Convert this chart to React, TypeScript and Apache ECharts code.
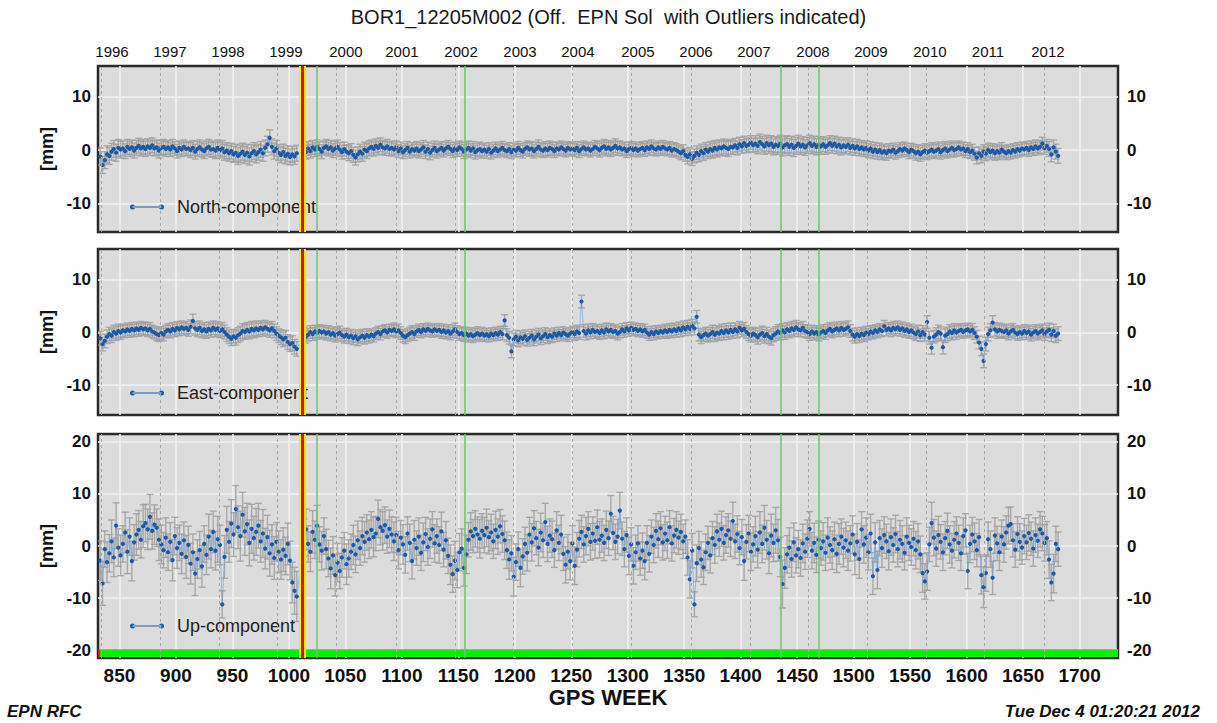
import { useEffect, useRef } from 'react';
import * as echarts from 'echarts';

const FONT = "'Liberation Sans', Arial, Helvetica, sans-serif";

const chartTitle = 'BOR1_12205M002 (Off.  EPN Sol  with Outliers indicated)';
const footerLeft = 'EPN RFC';
const footerRight = 'Tue Dec 4 01:20:21 2012';
const xAxisTitle = 'GPS WEEK';
const yAxisTitle = '[mm]';

const xMin = 831;
const xMax = 1734;
const weekTicks = [850, 900, 950, 1000, 1050, 1100, 1150, 1200, 1250, 1300, 1350, 1400, 1450, 1500, 1550, 1600, 1650, 1700];
const yearLabels = ['1996', '1997', '1998', '1999', '2000', '2001', '2002', '2003', '2004', '2005', '2006', '2007', '2008', '2009', '2010', '2011', '2012'];
const yearLabelWeeks = [843.4, 894.7, 946.1, 997.4, 1050.5, 1100.1, 1152.4, 1204.6, 1255.9, 1309.0, 1360.4, 1411.7, 1464.0, 1515.3, 1567.5, 1618.9, 1672.0];
const yearStartWeeks = [834, 886, 938, 990, 1042, 1095, 1147, 1199, 1251, 1303, 1356, 1408, 1460, 1512, 1564, 1616, 1669];
const discontinuityWeeks = [1012];
const eventWeeks = [1025, 1156, 1435, 1469];

// observation weeks: two segments (break around the discontinuity), every 2nd week
const segmentStartWeeks = [833, 1013];
const segmentLengths = [88, 335];
const weekStep = 2;
const sigmaBlockSize = 10;
const sigmaBlockOffsets = [0, 9];

const northValues = [
  -1.2, -2.8, -1.9, -0.8, -1.1, -0.3, 0.2, -0.5, 0.4, 0.1,
  0.3, -0.2, 0.6, 0.2, 0.5, -0.1, 0.4, 0.8, 0.3, 0.6,
  0.2, 0.7, 0.4, 0.9, 0.3, 0.5, -0.1, 0.4, 0.6, 0.2,
  0.5, 0.1, 0.7, 0.3, -0.2, 0.4, 0.1, 0.6, 0.2, 0.3,
  0.0, 0.4, -0.3, 0.2, 0.5, 0.1, -0.2, 0.3, 0.6, 0.1,
  0.2, -0.1, 0.4, 0.0, 0.3, -0.4, -0.1, -0.6, -0.2, -0.8,
  -0.5, -1.1, -0.7, -0.3, -0.9, -0.5, -1.2, -0.6, -0.2, -0.8,
  -0.4, 0.1, -0.6, 0.4, 1.1, 2.3, 0.6, -0.2, 0.3, -0.5,
  -0.9, -0.4, -1.1, -0.7, -1.3, -0.8, -1.2, -0.6,
  0.1, -0.4, 0.3, -0.2, 0.5, 0.1, 0.6, 0.2, -0.3, 0.4,
  0.7, 0.2, 0.5, -0.1, 0.3, 0.6, 0.1, -0.4, 0.2, -0.3,
  -0.6, -0.2, -0.9, -1.4, -0.8, -0.3, -0.7, 0.1, -0.2, 0.3,
  0.6, 0.2, 0.8, 0.4, 1.0, 0.5, 0.3, 0.7, 0.2, 0.4,
  0.1, 0.5, -0.2, 0.3, -0.4, 0.0, 0.4, -0.3, 0.2, -0.1,
  0.3, -0.2, 0.1, 0.5, -0.3, 0.2, -0.5, 0.0, 0.4, -0.2,
  0.1, 0.4, -0.1, 0.3, 0.6, 0.2, -0.2, 0.3, 0.0, 0.5,
  0.2, -0.3, 0.1, 0.4, -0.1, 0.3, -0.4, 0.0, 0.2, -0.2,
  0.1, -0.3, 0.2, -0.5, -0.1, 0.3, -0.2, 0.1, 0.4, 0.0,
  -0.2, 0.2, -0.4, 0.1, -0.1, 0.4, 0.0, -0.3, 0.2, 0.5,
  0.1, 0.3, -0.2, 0.2, 0.6, 0.1, -0.1, 0.3, 0.0, 0.4,
  0.2, -0.2, 0.3, 0.1, 0.5, 0.2, -0.1, 0.4, 0.1, 0.3,
  0.0, 0.4, -0.2, 0.2, 0.5, 0.1, 0.3, -0.1, 0.2, 0.6,
  0.3, 0.0, 0.4, 0.7, 0.2, 0.5, 0.1, 0.4, 0.8, 0.3,
  0.5, 0.1, 0.3, -0.2, 0.2, 0.4, 0.0, 0.3, -0.1, 0.2,
  0.4, 0.0, 0.5, 0.2, 0.7, 0.3, 0.1, 0.5, 0.2, 0.6,
  0.3, 0.1, 0.4, -0.1, 0.2, 0.0, -0.3, -0.6, -0.2, -0.9,
  -1.3, -0.8, -1.6, -1.1, -0.5, -0.9, -0.2, -0.6, 0.1, -0.3,
  0.2, -0.1, 0.4, 0.1, 0.5, 0.3, 0.7, 0.4, 0.2, 0.6,
  0.5, 0.9, 0.4, 1.1, 0.7, 1.3, 0.8, 1.0, 1.4, 0.9,
  1.2, 0.8, 1.5, 1.1, 0.7, 1.3, 0.9, 1.2, 0.6, 1.0,
  0.8, 1.2, 0.5, 0.9, 1.1, 0.6, 1.0, 0.4, 0.8, 1.2,
  0.7, 1.0, 0.5, 0.9, 1.3, 0.8, 1.1, 0.6, 1.0, 0.7,
  1.1, 0.6, 0.9, 1.3, 0.8, 1.2, 0.7, 1.0, 0.5, 0.9,
  0.6, 1.0, 0.4, 0.8, 0.3, 0.7, 0.2, 0.5, 0.1, 0.4,
  -0.1, 0.3, -0.3, 0.1, -0.4, 0.0, -0.5, -0.2, -0.6, -0.1,
  -0.3, 0.1, -0.5, -0.2, 0.2, -0.1, 0.3, 0.0, -0.4, 0.1,
  -0.2, -0.6, -0.3, -0.8, -0.4, -0.1, -0.5, -0.2, 0.1, -0.3,
  -0.1, 0.2, -0.4, 0.0, 0.3, -0.2, 0.1, 0.4, 0.0, 0.2,
  0.5, 0.1, 0.3, -0.2, 0.2, -0.4, -0.1, -0.7, -1.4, -0.6,
  -1.1, -0.3, -0.7, 0.0, -0.4, -0.1, -0.6, -0.2, -0.5, 0.1,
  -0.3, -0.6, -0.2, -0.5, 0.0, -0.3, 0.2, -0.1, 0.3, 0.1,
  0.4, 0.0, 0.5, 0.2, 0.7, 0.3, 0.6, 1.2, 0.4, 0.8,
  0.2, -0.8, 0.5, -0.3, -1.1,
];

const eastValues = [
  -1.1, -2.2, -1.6, -0.8, -0.3, -0.6, 0.1, -0.2, 0.3, 0.0,
  0.4, 0.2, 0.6, 0.3, 0.7, 0.4, 0.8, 0.5, 0.9, 0.6,
  0.8, 0.4, 0.7, 0.2, 0.0, -0.3, -0.5, -0.1, -0.4, 0.2,
  0.5, 0.2, 0.7, 0.4, 0.9, 0.6, 1.0, 0.7, 0.9, 0.5,
  1.1, 2.2, 0.8, 0.5, 0.9, 0.3, 0.6, 0.2, 0.7, 0.4,
  0.9, 0.5, 0.8, 0.3, 0.6, 0.1, -0.4, -0.8, -1.2, -0.7,
  -1.0, -0.5, -0.2, 0.3, 0.1, 0.5, 0.2, 0.7, 0.4, 0.8,
  0.5, 0.9, 0.6, 1.0, 0.7, 0.4, 0.8, 0.3, -0.2, -0.6,
  -0.9, -1.3, -1.0, -1.8, -2.2, -2.0, -2.7, -3.1,
  -0.2, -0.8, -0.4, 0.1, -0.3, 0.2, -0.1, 0.3, 0.0, 0.2,
  -0.2, 0.1, -0.4, -0.1, -0.6, -0.3, 0.0, -0.5, -0.8, -0.4,
  -0.9, -0.6, -1.1, -0.7, -1.3, -0.9, -0.6, -1.0, -0.5, -0.8,
  -0.4, -0.7, -0.2, 0.1, -0.3, 0.2, 0.4, 0.0, 0.5, 0.3,
  0.6, 0.2, 0.4, -0.1, -0.6, -0.9, -0.5, -0.2, 0.1, -0.3,
  0.2, 0.5, 0.1, 0.6, 0.3, 0.7, 0.4, 0.2, 0.6, 0.3,
  0.5, 0.1, 0.4, 0.0, 0.3, -0.2, 0.2, 0.6, 0.1, -0.3,
  -0.1, -0.5, -0.2, -0.6, -0.3, -0.7, -0.4, -0.1, -0.5, -0.2,
  -0.6, -0.3, -0.7, -0.2, -0.5, -0.1, -0.4, 0.1, -0.3, 2.3,
  -0.5, -1.0, -3.6, -1.3, -0.8, -1.5, -0.9, -1.2, -0.7, -1.4,
  -1.0, -0.6, -1.3, -0.8, -0.4, -1.1, -0.7, -0.3, -0.9, -0.5,
  -0.8, -0.2, -0.6, -0.1, -0.5, 0.0, -0.3, -0.6, -0.2, 0.1,
  -0.3, 0.2, -0.1, 5.9, 0.3, -0.2, 0.4, 0.0, 0.5, 0.1,
  0.3, -0.1, 0.4, 0.0, 0.6, 0.2, 0.5, 0.1, 0.3, -0.2,
  0.1, 0.6, 0.2, 0.8, 0.4, 0.9, 0.5, 0.7, 0.3, 0.6,
  0.2, 0.5, 0.0, -0.4, 0.1, -0.3, 0.2, -0.1, 0.3, 0.0,
  0.4, 0.1, 0.5, 0.2, 0.6, 0.3, 0.8, 0.4, 1.0, 0.6,
  1.1, 0.7, 1.3, 0.8, 3.0, -0.4, -0.9, -0.5, -0.2, -0.6,
  -0.3, 0.1, -0.4, 0.0, -0.2, 0.3, -0.1, 0.4, 0.0, 0.5,
  0.1, 0.6, 0.2, 0.9, 0.4, 0.7, 0.1, -0.3, -0.6, -0.2,
  -0.5, -0.9, -0.4, -0.1, -0.7, -0.3, -0.8, -1.1, -0.5, -0.2,
  0.2, -0.1, 0.4, 0.0, 0.6, 0.3, 0.8, 0.5, 1.0, 0.6,
  0.4, 0.9, 0.3, 0.1, -0.3, 0.2, -0.2, 0.1, -0.4, 0.0,
  0.3, -0.1, 0.4, 0.7, 0.2, 0.5, 0.8, 0.4, 0.9, 0.5,
  0.7, 1.0, 0.3, -0.4, -0.8, -0.3, -0.7, -0.2, -0.5, 0.0,
  -0.3, 0.2, -0.1, 0.4, 0.1, 0.6, 0.3, 1.2, 0.5, 0.8,
  0.4, 0.9, 0.6, 1.0, 0.5, 0.8, 0.3, 0.6, 0.1, 0.4,
  0.0, -0.3, 0.2, -0.5, 0.1, -0.4, 2.0, -1.0, -2.9, -0.8,
  -0.4, 0.1, -0.2, -2.8, -0.6, -0.3, 0.2, -0.1, 0.4, 0.0,
  0.3, 0.5, 0.1, 0.4, 0.6, 0.2, 0.5, -0.1, -0.8, -1.9,
  -3.1, -5.4, -2.2, -0.3, 0.4, 1.9, 0.6, 0.2, 0.5, 0.3,
  0.1, 0.4, -0.2, 0.2, 0.5, 0.0, -0.3, 0.1, -0.2, 0.3,
  -0.1, 0.2, -0.4, 0.0, 0.3, -0.2, 0.1, 0.4, -0.3, 0.2,
  0.5, -0.4, 0.3, -0.6, -0.2,
];

const upValues = [
  -2.8, -7.2, -0.6, -3.1, -1.4, 0.9, -2.2, 3.9, -0.3, -1.8,
  0.4, 2.6, -1.1, 1.8, -2.9, 0.7, 2.2, 3.1, 1.2, 3.8,
  4.4, 3.2, 5.6, 2.9, 4.1, 3.5, 1.2, 0.3, -0.8, 1.6,
  -1.2, 0.8, -2.7, 1.9, -0.4, 0.6, -1.5, 1.1, -2.1, 0.2,
  -3.4, -1.2, -5.3, -2.5, -0.8, -3.9, 0.4, -1.7, 1.8, -0.6,
  2.7, -0.9, 1.3, 0.2, -11.2, -2.1, 3.1, 0.8, 4.3, 2.2,
  7.1, 3.6, 1.9, 6.0, 2.8, 4.2, 0.6, 3.3, 1.5, 2.7,
  3.9, 0.9, 2.4, -0.5, 1.7, -1.4, 0.3, -2.3, 0.8, -1.1,
  -2.6, -0.7, -1.9, 0.4, -2.8, -7.0, -8.6, -9.7,
  1.6, 3.2, 0.4, -1.1, 2.7, 1.2, 3.9, 0.3, -0.9, 1.9,
  -0.6, -2.4, -4.3, -1.8, -5.6, -3.2, -4.8, -2.2, -0.9, -3.5,
  -2.4, -1.1, 0.2, -1.6, 1.1, -0.4, 1.9, 0.8, 2.6, 1.3,
  3.1, 1.7, 2.4, 5.2, 3.6, 2.9, 4.0, 1.8, 3.3, 2.2,
  0.9, 2.1, -0.8, 1.6, 0.3, -1.7, 2.4, 0.6, -2.9, 1.2,
  -0.4, 1.8, -1.3, 0.7, 2.3, -0.2, 1.4, 3.2, 0.5, 1.9,
  0.2, 2.8, -0.7, 1.1, -1.9, -3.6, -5.4, -2.8, -4.6, -1.2,
  -0.5, -4.2, -1.6, 1.2, 2.8, 1.9, 3.3, 2.2, 1.4, 2.9,
  2.1, 3.5, 1.7, 2.6, 0.9, 3.1, 1.8, 3.8, 2.3, 1.1,
  -0.8, -2.6, -1.4, -5.9, -3.1, -0.6, -4.2, -2.0, 0.4, -1.3,
  2.2, 0.7, 3.4, 1.5, -0.3, 2.6, 1.1, 4.6, 0.4, 2.0,
  1.3, -0.8, 3.0, 0.6, 2.2, -1.5, -3.6, -1.1, -2.9, 0.5,
  -3.8, -0.7, 1.4, 2.7, 0.3, 1.9, 3.3, 0.8, 2.4, 1.0,
  3.6, 1.2, 2.0, 0.6, 3.1, 1.5, 6.2, 2.5, 0.8, 1.8,
  6.8, 1.4, -0.6, 2.1, -1.9, 0.3, -3.8, -1.2, 0.5, -2.4,
  -0.9, -2.9, 0.6, -1.5, 1.8, 0.2, 2.9, 1.3, 3.4, 0.7,
  2.4, 1.1, 3.6, 0.5, 2.0, 3.1, 1.6, 2.7, 0.9, 1.8,
  -2.2, -6.4, -0.9, -11.2, -3.3, -0.4, -2.6, -4.1, -1.2, 0.6,
  -1.8, 1.5, 0.2, 2.8, 1.2, 3.3, 0.6, 2.1, 3.0, 1.4,
  4.8, 0.9, 2.3, -0.4, 1.7, -2.9, 0.8, 2.4, -1.1, 0.3,
  1.9, -0.7, 2.6, 0.4, 3.5, 1.2, -1.4, 2.0, 0.6, 3.0,
  1.1, -2.1, -7.3, -4.2, -1.6, -0.3, -2.5, 0.7, -1.8, -0.6,
  -2.3, 0.5, -1.1, 1.4, 3.3, -0.9, 0.6, -1.7, 1.2, -0.4,
  0.9, -1.3, 1.6, 0.2, -0.8, 1.3, -1.5, 0.4, 1.8, -0.3,
  1.1, -0.9, 0.5, 2.2, -1.6, 0.8, -2.5, 3.2, 0.3, 1.6,
  -1.2, 2.4, -5.8, 0.7, -4.6, 1.5, -0.4, 2.1, 0.9, -1.0,
  1.7, 0.2, 2.3, -0.6, 1.2, 0.4, -1.3, 1.8, 0.6, -0.2,
  1.4, -0.8, 0.9, -1.6, -5.2, -6.8, -4.9, 0.3, 4.4, 1.6,
  -0.5, 2.1, 0.8, -1.2, 1.5, 2.9, 0.3, -0.9, 1.2, 2.4,
  0.6, -1.4, 1.9, 3.0, -4.8, 0.4, 2.2, 0.9, -0.8, 1.7,
  -5.6, -7.9, -5.2, 1.3, -0.6, -6.1, 2.0, 0.5, -1.2, 1.8,
  0.3, 2.6, 3.9, 4.2, 1.1, -0.7, 2.3, 0.8, -0.3, 1.9,
  0.7, 2.5, 1.4, -0.5, 2.1, 1.0, 3.2, 2.4, 0.6, 1.5,
  -2.6, -7.0, -5.3, 0.4, -0.6,
];

const upSigma = [
  3.8, 4.2, 3.5, 3.9, 3.6, 4.1, 3.7, 4.4, 3.6, 3.9,
  3.5, 3.9, 4.2, 3.6, 3.8, 3.4, 4.0, 3.7, 3.5, 4.1,
  3.6, 3.9, 4.3, 3.5, 3.8, 3.6, 4.0, 3.7, 3.4, 3.8,
  3.5, 3.7, 4.0, 3.6, 3.9, 3.4, 3.8, 3.5, 4.1, 3.6,
  3.9, 3.5, 4.2, 3.7, 3.6, 4.0, 3.5, 3.8, 4.3, 3.6,
  4.0, 3.7, 4.4, 3.8, 2.6, 4.1, 4.5, 3.9, 4.6, 4.2,
  4.5, 4.1, 4.8, 4.3, 4.6, 4.0, 4.4, 4.7, 4.2, 4.5,
  4.3, 4.0, 4.6, 3.9, 4.2, 4.4, 3.8, 4.1, 3.7, 4.0,
  3.8, 4.2, 3.6, 4.0, 3.7, 3.9, 4.5, 4.8,
  3.6, 3.9, 3.5, 3.8, 4.1, 3.6, 3.9, 3.4, 3.7, 3.5,
  3.8, 3.5, 3.9, 3.6, 4.0, 3.7, 3.4, 3.8, 3.5, 3.9,
  3.6, 3.4, 3.8, 3.5, 3.7, 3.3, 3.6, 3.9, 3.4, 3.7,
  3.5, 3.8, 3.3, 3.6, 3.4, 3.7, 3.5, 3.2, 3.6, 3.4,
  3.7, 3.4, 3.6, 3.3, 3.8, 3.5, 3.2, 3.6, 3.4, 3.7,
  3.3, 3.6, 3.4, 3.7, 3.2, 3.5, 3.8, 3.4, 3.6, 3.3,
  3.5, 3.7, 3.3, 3.6, 3.4, 3.8, 3.5, 3.7, 3.4, 3.6,
  3.8, 3.5, 3.7, 3.3, 3.6, 3.2, 3.5, 3.4, 3.7, 3.3,
  3.4, 3.6, 3.2, 3.5, 3.3, 3.6, 3.4, 3.2, 3.5, 3.7,
  3.5, 3.8, 3.4, 3.7, 3.5, 3.3, 3.6, 3.4, 3.2, 3.5,
  3.3, 3.6, 3.4, 3.2, 3.5, 3.7, 3.3, 3.6, 3.4, 3.2,
  3.5, 3.3, 3.6, 3.4, 3.7, 3.2, 3.5, 3.3, 3.6, 3.4,
  3.6, 3.3, 3.5, 3.2, 3.4, 3.6, 3.3, 3.5, 3.2, 3.4,
  3.3, 3.5, 3.2, 3.4, 3.6, 3.3, 3.5, 3.2, 3.4, 3.3,
  3.5, 3.2, 3.4, 3.3, 3.6, 3.2, 3.5, 3.3, 3.4, 3.2,
  3.4, 3.6, 3.3, 3.5, 3.2, 3.4, 3.3, 3.5, 3.2, 3.4,
  3.3, 3.5, 3.2, 3.4, 3.3, 3.5, 3.2, 3.4, 3.3, 3.2,
  3.4, 3.6, 3.3, 2.4, 3.5, 3.2, 3.4, 3.3, 3.5, 3.2,
  3.4, 3.2, 3.5, 3.3, 3.2, 3.4, 3.3, 3.5, 3.2, 3.4,
  3.6, 3.3, 3.5, 3.2, 3.4, 3.7, 3.3, 3.5, 3.6, 3.4,
  3.8, 3.5, 4.0, 3.6, 4.3, 3.7, 3.9, 4.1, 3.6, 4.4,
  4.0, 3.8, 4.6, 3.9, 3.6, 3.8, 3.5, 3.7, 3.4, 3.6,
  3.5, 3.7, 3.4, 3.6, 3.3, 3.5, 3.8, 3.4, 3.6, 3.3,
  3.6, 3.4, 3.8, 3.5, 3.7, 3.3, 3.6, 3.9, 3.4, 3.7,
  3.5, 3.8, 3.4, 3.6, 3.9, 3.5, 3.7, 3.4, 3.6, 3.8,
  3.4, 3.7, 3.5, 3.8, 3.6, 3.4, 3.7, 3.5, 3.3, 3.6,
  3.5, 3.3, 3.6, 3.4, 3.7, 3.5, 3.3, 3.6, 3.4, 3.5,
  3.3, 3.6, 3.4, 3.5, 3.7, 3.4, 3.6, 3.3, 4.0, 3.5,
  3.4, 3.6, 3.3, 3.5, 3.2, 3.4, 3.6, 3.3, 3.5, 3.2,
  3.4, 3.3, 3.5, 3.2, 3.4, 3.6, 3.3, 3.5, 3.2, 3.4,
  3.6, 3.9, 3.5, 3.3, 3.5, 3.2, 3.4, 3.3, 3.5, 3.2,
  3.4, 3.2, 3.5, 3.3, 3.2, 3.4, 3.3, 3.5, 3.2, 3.4,
  3.3, 3.5, 3.2, 3.4, 3.3, 3.2, 3.4, 3.3, 3.5, 3.2,
  3.6, 3.5, 3.7, 3.4, 3.3,
];

// sigma per block of 10 observations (20 weeks)
const northSigmaBlocks = [
  1.6, 1.4, 1.4, 1.3, 1.4, 1.5, 1.6, 1.5, 1.5,
  1.3, 1.3, 1.4, 1.3, 1.2, 1.3, 1.2, 1.3, 1.2, 1.2,
  1.3, 1.2, 1.2, 1.3, 1.2, 1.2, 1.2, 1.3, 1.4, 1.3,
  1.5, 1.6, 1.5, 1.4, 1.3, 1.3, 1.2, 1.3, 1.3, 1.2,
  1.3, 1.2, 1.2, 1.4,
];
const eastSigmaBlocks = [
  1.3, 1.2, 1.2, 1.2, 1.3, 1.3, 1.4, 1.3, 1.4,
  1.2, 1.2, 1.2, 1.1, 1.2, 1.1, 1.2, 1.2, 1.1, 1.2,
  1.2, 1.1, 1.2, 1.2, 1.1, 1.1, 1.2, 1.2, 1.3, 1.2,
  1.3, 1.3, 1.2, 1.2, 1.2, 1.1, 1.2, 1.2, 1.3, 1.2,
  1.3, 1.2, 1.2, 1.3,
];

const LEGEND_ICON =
  'path://M0,2.5a2.5,2.5 0 1,0 5,0a2.5,2.5 0 1,0 -5,0Z M29,2.5a2.5,2.5 0 1,0 5,0a2.5,2.5 0 1,0 -5,0Z M2.5,2.1H31.5V2.9H2.5Z';

type Panel = {
  name: string;
  values: number[];
  sigmaAt: (k: number, seg: number, j: number) => number;
  yMin: number;
  yMax: number;
  yTicks: number[];
  top: number;
  height: number;
  legendTop: number;
};

const panels: Panel[] = [
  {
    name: 'North-component',
    values: northValues,
    sigmaAt: (_k, s, j) => northSigmaBlocks[sigmaBlockOffsets[s] + Math.floor(j / sigmaBlockSize)],
    yMin: -15.4, yMax: 15.8, yTicks: [-10, 0, 10],
    top: 66, height: 166, legendTop: 198,
  },
  {
    name: 'East-component',
    values: eastValues,
    sigmaAt: (_k, s, j) => eastSigmaBlocks[sigmaBlockOffsets[s] + Math.floor(j / sigmaBlockSize)],
    yMin: -15.7, yMax: 15.9, yTicks: [-10, 0, 10],
    top: 249, height: 166, legendTop: 384,
  },
  {
    name: 'Up-component',
    values: upValues,
    sigmaAt: (k) => upSigma[k],
    yMin: -21.5, yMax: 21.5, yTicks: [-20, -10, 0, 10, 20],
    top: 434, height: 224, legendTop: 617,
  },
];

function buildPoints(p: Panel): number[][] {
  const pts: number[][] = [];
  let k = 0;
  segmentStartWeeks.forEach((start, s) => {
    for (let j = 0; j < segmentLengths[s]; j++) {
      pts.push([start + j * weekStep, p.values[k], p.sigmaAt(k, s, j)]);
      k++;
    }
  });
  return pts;
}

const plainNumber = (v: number) => String(v);

function buildOption() {
  const grid: any[] = [];
  const xAxis: any[] = [];
  const yAxis: any[] = [];
  const series: any[] = [];
  const legend: any[] = [];

  panels.forEach((p, i) => {
    grid.push({
      left: 98, width: 1020, top: p.top, height: p.height,
      show: true, backgroundColor: '#dcdcdc', borderColor: '#2a2a2a', borderWidth: 2.5,
    });
    const isBottom = i === panels.length - 1;
    xAxis.push({
      type: 'value', gridIndex: i, min: xMin, max: xMax, position: 'bottom',
      axisLine: { show: false },
      axisTick: { show: false, customValues: weekTicks },
      axisLabel: {
        show: isBottom, customValues: weekTicks, margin: 8, formatter: plainNumber,
        fontSize: 19, fontWeight: 'bold', color: '#111', fontFamily: FONT,
      },
      splitLine: { show: true, lineStyle: { color: '#f2f2f2', width: 1.5 } },
      name: isBottom ? xAxisTitle : '',
      nameLocation: 'middle', nameGap: 28,
      nameTextStyle: { fontSize: 22, fontWeight: 'bold', color: '#111', fontFamily: FONT },
    });
    const yCommon = {
      type: 'value', gridIndex: i, min: p.yMin, max: p.yMax,
      axisLine: { show: false },
      axisTick: { show: false, customValues: p.yTicks },
    };
    yAxis.push({
      ...yCommon, position: 'left',
      axisLabel: { customValues: p.yTicks, formatter: plainNumber, margin: 7, fontSize: 17, fontWeight: 'bold', color: '#111', fontFamily: FONT },
      splitLine: { show: true, lineStyle: { color: '#f2f2f2', width: 1.5 } },
      name: yAxisTitle, nameLocation: 'middle', nameGap: 42, nameRotate: 90,
      nameTextStyle: { fontSize: 18, fontWeight: 'bold', color: '#111', fontFamily: FONT },
    });
    yAxis.push({
      ...yCommon, position: 'right',
      axisLabel: { customValues: p.yTicks, formatter: plainNumber, margin: 9, fontSize: 17, fontWeight: 'bold', color: '#111', fontFamily: FONT },
      splitLine: { show: false },
    });

    const pts = buildPoints(p);

    // year boundaries (dashed)
    series.push({
      type: 'line', name: 'years' + i, data: [], xAxisIndex: i, yAxisIndex: 2 * i, z: 1, silent: true,
      markLine: {
        silent: true, symbol: ['none', 'none'], label: { show: false }, animation: false,
        lineStyle: { color: '#a8a8a8', width: 1, type: [3, 3] },
        data: yearStartWeeks.map((w) => ({ xAxis: w })),
      },
    });

    // error bars
    series.push({
      type: 'custom', name: p.name + ' sigma', xAxisIndex: i, yAxisIndex: 2 * i, z: 2, silent: true,
      clip: true,
      data: pts,
      encode: { x: 0, y: 1 },
      renderItem: (_params: any, api: any) => {
        const x = api.value(0);
        const y = api.value(1);
        const s = api.value(2);
        const top = api.coord([x, y + s]);
        const bot = api.coord([x, y - s]);
        const hw = 3.5;
        const style = { stroke: '#9c9c9c', lineWidth: 1.4, opacity: 0.8 };
        return {
          type: 'group',
          children: [
            { type: 'line', shape: { x1: top[0], y1: top[1], x2: bot[0], y2: bot[1] }, style },
            { type: 'line', shape: { x1: top[0] - hw, y1: top[1], x2: top[0] + hw, y2: top[1] }, style },
            { type: 'line', shape: { x1: bot[0] - hw, y1: bot[1], x2: bot[0] + hw, y2: bot[1] }, style },
          ],
        };
      },
    });

    // observations
    series.push({
      type: 'line', name: p.name, xAxisIndex: i, yAxisIndex: 2 * i, z: 3,
      data: pts.map((q) => [q[0], q[1]]),
      showSymbol: true, showAllSymbol: true, symbol: 'circle', symbolSize: 4.2,
      itemStyle: { color: '#1a5aa8' },
      lineStyle: { color: '#6b9bd6', width: 0.8, opacity: 0.7 },
      emphasis: { disabled: true },
      silent: true,
    });

    // events: discontinuity (red/yellow) and equipment changes (green)
    const eventLines: any[] = [];
    eventWeeks.forEach((w) => eventLines.push({ xAxis: w, lineStyle: { color: '#6cc46c', width: 2, type: 'solid', opacity: 0.75 } }));
    discontinuityWeeks.forEach((w) => {
      eventLines.push({ xAxis: w, lineStyle: { color: '#ffe600', width: 7, type: 'solid', opacity: 1 } });
      eventLines.push({ xAxis: w, lineStyle: { color: '#c81a00', width: 3, type: 'solid', opacity: 1 } });
    });
    const eventSeries: any = {
      type: 'line', name: 'events' + i, data: [], xAxisIndex: i, yAxisIndex: 2 * i, z: 4, silent: true,
      markLine: {
        silent: true, symbol: ['none', 'none'], label: { show: false }, animation: false,
        data: eventLines,
      },
    };
    if (isBottom) {
      eventSeries.markArea = {
        silent: true, label: { show: false },
        data: [
          [{ yAxis: p.yMin + 0.25, itemStyle: { color: '#00f000' } }, { yAxis: -19.8 }],
          [{ xAxis: xMin, yAxis: p.yMin + 0.25, itemStyle: { color: '#d01010' } }, { xAxis: xMin + 1.5, yAxis: -19.8 }],
        ],
      };
    }
    series.push(eventSeries);

    legend.push({
      data: [p.name], left: 130, top: p.legendTop, padding: 0, selectedMode: false,
      icon: LEGEND_ICON, itemWidth: 34, itemHeight: 5,
      textStyle: { fontSize: 18, color: '#222', fontFamily: FONT, padding: [0, 0, 0, 8] },
    });
  });

  // top year axis on first panel
  xAxis.push({
    type: 'value', gridIndex: 0, min: xMin, max: xMax, position: 'top',
    axisLine: { show: false },
    axisTick: { show: false, customValues: yearLabelWeeks },
    splitLine: { show: false },
    axisLabel: {
      show: true, customValues: yearLabelWeeks, margin: 7,
      fontSize: 15, color: '#111', fontFamily: FONT,
      formatter: (v: number) => {
        let best = 0;
        yearLabelWeeks.forEach((w, idx) => {
          if (Math.abs(w - v) < Math.abs(yearLabelWeeks[best] - v)) best = idx;
        });
        return yearLabels[best];
      },
    },
  });

  return {
    animation: false,
    backgroundColor: '#ffffff',
    textStyle: { fontFamily: FONT },
    title: [
      { text: chartTitle, left: 'center', top: 7, padding: 0, textStyle: { fontSize: 20, fontWeight: 'normal', color: '#1a1a1a', fontFamily: FONT } },
      { text: footerLeft, left: 7, top: 703, padding: 0, textStyle: { fontSize: 17, fontWeight: 'bold', fontStyle: 'italic', color: '#111', fontFamily: FONT } },
      { text: footerRight, right: 17, top: 703, padding: 0, textStyle: { fontSize: 17, fontWeight: 'bold', fontStyle: 'italic', color: '#111', fontFamily: FONT } },
    ],
    legend,
    grid,
    xAxis,
    yAxis,
    series,
  };
}

export default function App() {
  const ref = useRef<HTMLDivElement>(null);
  useEffect(() => {
    if (!ref.current) return;
    const chart = echarts.init(ref.current, undefined, { renderer: 'svg' });
    chart.setOption(buildOption() as any);
    return () => chart.dispose();
  }, []);
  return (
    <div
      ref={ref}
      style={{ position: 'fixed', left: 0, top: 0, width: 1217, height: 723, background: '#fff' }}
    />
  );
}
